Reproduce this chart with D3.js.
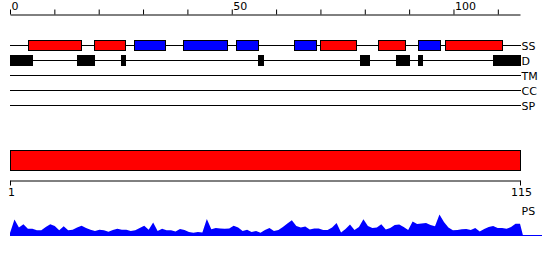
<!DOCTYPE html>
<html>
<head>
<meta charset="utf-8">
<script src="https://cdn.jsdelivr.net/npm/d3@7"></script>
<style>
  body { margin: 0; background: #fff; }
  svg { display: block; font-family: "DejaVu Sans", sans-serif; }
  text { font-size: 11px; fill: #000; }
</style>
</head>
<body>
<svg width="550" height="260"></svg>
<script>
// sequence + tracks
const seqLength = 115;
const trackNames = ["SS", "D", "TM", "CC", "SP"];
const topTickValues = [0, 10, 20, 30, 40, 50, 60, 70, 80, 90, 100, 110];
const topTickLabels = [0, 50, 100];

// secondary structure (H = helix red, E = strand blue)
const ssStarts = [4, 19, 28, 39, 51, 64, 70, 83, 92, 98];
const ssEnds   = [16, 26, 35, 49, 56, 69, 78, 89, 97, 111];
const ssTypes  = ["H", "H", "E", "E", "E", "E", "H", "H", "E", "H"];

// disorder segments
const disStarts = [0, 15, 25, 56, 79, 87, 92, 109];
const disEnds   = [5, 19, 26, 57, 81, 90, 93, 115];

// per residue PS score (1..115)
const psScores = [
  3, 16.4, 8.5, 11.7, 7.3, 7.3, 5.7, 5.7, 9, 11.7,
  10, 5.7, 9.7, 5.7, 6.3, 8.5, 10.3, 8, 6.3, 5,
  6.3, 5.8, 4.3, 6, 7.3, 6.3, 6.3, 5, 5.7, 8,
  10.3, 6.3, 13.5, 5, 7.3, 5.7, 5.7, 4.5, 7, 6,
  4, 3.2, 4, 3.5, 17, 6.7, 8, 7.5, 7.3, 7.5,
  10.3, 8.5, 5, 6.3, 4, 5, 3.3, 6, 8, 5,
  6, 9, 12.5, 15.7, 10, 8.5, 9.5, 6.5, 7.5, 7.5,
  6, 6, 8.5, 13, 3.5, 7, 11.5, 6, 9, 16.7,
  10, 8, 8.5, 11.7, 6.5, 8, 11, 11.5, 9, 6,
  14.5, 12, 12.5, 13, 11, 9.7, 21.5, 14, 8.5, 5.8,
  6, 6.8, 7, 6, 8, 4.5, 7, 9, 10, 8,
  8, 7.3, 9, 12.3, 12.3
];

const colorOf = { H: "#ff0000", E: "#0000ff" };

const svg = d3.select("svg");

const x = d3.scaleLinear().domain([0, seqLength]).range([10, 520]);
const xRes = d3.scaleLinear().domain([1, seqLength]).range([10, 520]);
const trackY = d3.scalePoint().domain(trackNames).range([45, 105]);

// top ruler
const topAxis = svg.append("g")
    .attr("transform", "translate(0,14.5)")
    .call(d3.axisTop(x).tickValues(topTickValues).tickSize(5).tickSizeOuter(0)
        .tickFormat(d => topTickLabels.includes(d) ? d : ""));
topAxis.select(".domain").attr("stroke", "#000");
topAxis.selectAll(".tick line").attr("stroke", "#000");
topAxis.selectAll("text")
    .attr("text-anchor", "start")
    .attr("dx", "1")
    .attr("y", -4.5)
    .attr("dy", 0)
    .style("font-size", "11px")
    .style("font-family", "DejaVu Sans, sans-serif");

// track base lines + labels
const tracks = svg.append("g");
tracks.selectAll("line")
    .data(trackNames)
    .enter().append("line")
    .attr("x1", x(0)).attr("x2", x(seqLength) + 1)
    .attr("y1", d => trackY(d) + 0.5).attr("y2", d => trackY(d) + 0.5)
    .attr("stroke", "#000");
tracks.selectAll("text")
    .data(trackNames)
    .enter().append("text")
    .attr("x", x(seqLength) + 1.5)
    .attr("y", d => trackY(d) + 4.5)
    .text(d => d);

// SS boxes
const ssData = ssStarts.map((s, i) => ({ start: s, end: ssEnds[i], type: ssTypes[i] }));
svg.append("g").selectAll("rect")
    .data(ssData)
    .enter().append("rect")
    .attr("x", d => Math.round(x(d.start)) + 0.5)
    .attr("width", d => Math.round(x(d.end)) - Math.round(x(d.start)))
    .attr("y", trackY("SS") - 4.5)
    .attr("height", 10)
    .attr("fill", d => colorOf[d.type])
    .attr("stroke", "#000");

// disorder boxes
const disData = disStarts.map((s, i) => ({ start: s, end: disEnds[i] }));
svg.append("g").selectAll("rect")
    .data(disData)
    .enter().append("rect")
    .attr("x", d => Math.round(x(d.start)))
    .attr("width", d => Math.round(x(d.end)) - Math.round(x(d.start)) + 1)
    .attr("y", trackY("D") - 5)
    .attr("height", 11)
    .attr("fill", "#000");

// full-length domain bar
svg.append("rect")
    .attr("x", xRes(1) + 0.5)
    .attr("width", xRes(seqLength) - xRes(1))
    .attr("y", 150.5)
    .attr("height", 20)
    .attr("fill", "#ff0000")
    .attr("stroke", "#000");

// bottom ruler
const botAxis = svg.append("g")
    .attr("transform", "translate(0,180.5)")
    .call(d3.axisBottom(xRes).tickValues([1, seqLength]).tickSize(5).tickSizeOuter(0));
botAxis.select(".domain").attr("stroke", "#000");
botAxis.selectAll(".tick line").attr("stroke", "#000");
botAxis.selectAll("text")
    .attr("y", 15)
    .attr("dy", 0)
    .attr("dx", "1")
    .style("font-size", "11px")
    .style("font-family", "DejaVu Sans, sans-serif");

// PS profile
const y = d3.scaleLinear().domain([0, 25]).range([236, 211]);
const psPoints = psScores.map((v, i) => ({ pos: i + 1, v: v }));
psPoints.push({ pos: seqLength + 0.7, v: 0 });

svg.append("path")
    .datum(psPoints)
    .attr("fill", "#0000ff")
    .attr("d", d3.area()
        .x(d => xRes(d.pos))
        .y0(y(0))
        .y1(d => y(d.v)));

svg.append("line")
    .attr("x1", xRes(1)).attr("x2", xRes(seqLength) + 22)
    .attr("y1", y(0) - 0.5).attr("y2", y(0) - 0.5)
    .attr("stroke", "#0000ff");

svg.append("text")
    .attr("x", xRes(seqLength) + 1.5)
    .attr("y", 215)
    .text("PS");
</script>
</body>
</html>
